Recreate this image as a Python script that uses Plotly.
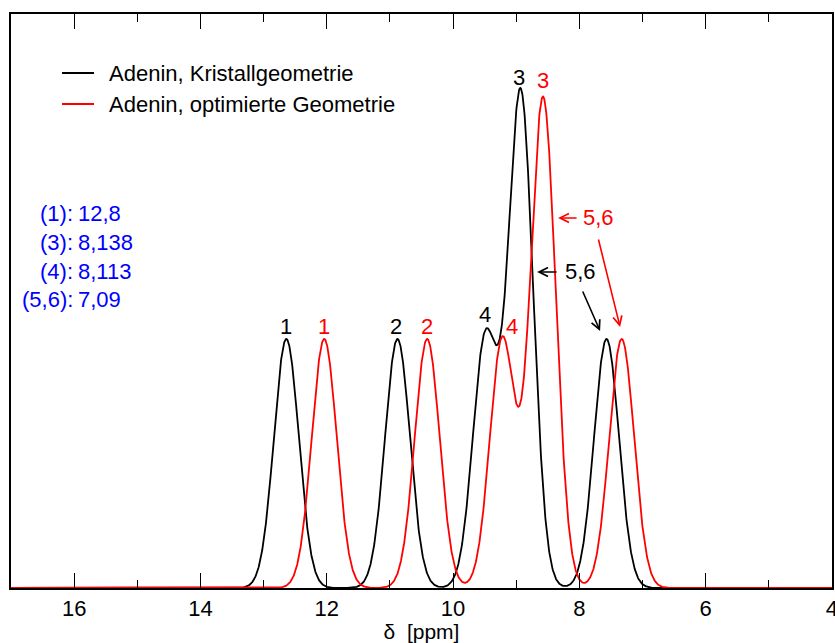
import numpy as np
import plotly.graph_objects as go

# Chemical shifts (ppm) of the adenine protons, each broadened into a Gaussian line
crystal_shifts = [12.64, 10.88, 9.49, 8.95, 8.91, 7.57]
optimized_shifts = [12.04, 10.41, 9.22, 8.61, 8.54, 7.33]
line_intensity = [1, 1, 1, 1, 1, 1]
line_sigma = 0.197  # ppm

# Experimental reference shifts
exp_labels = ["(1):", "(3):", "(4):", "(5,6):"]
exp_values = ["12,8", "8,138", "8,113", "7,09"]

x_ticks = [16, 14, 12, 10, 8, 6, 4]

ppm = np.linspace(17, 4, 2601)


def spectrum(shifts):
    y = np.zeros_like(ppm)
    for s, a in zip(shifts, line_intensity):
        y += a * np.exp(-0.5 * ((ppm - s) / line_sigma) ** 2)
    return y


black_y = spectrum(crystal_shifts)
red_y = spectrum(optimized_shifts)

FONT = "Liberation Sans, Arial, Helvetica, sans-serif"
FS = 22
BLUE = "#0000ff"

fig = go.Figure()
fig.add_trace(go.Scatter(x=ppm, y=black_y, mode="lines",
                         line=dict(color="black", width=1.8),
                         name="Adenin, Kristallgeometrie", showlegend=False))
fig.add_trace(go.Scatter(x=ppm, y=red_y, mode="lines",
                         line=dict(color="#ff0000", width=1.8),
                         name="Adenin, optimierte Geometrie", showlegend=False))

ann = []


def label(x, y, text, color, xanchor="center"):
    ann.append(dict(x=x, y=y, text=text, showarrow=False, xanchor=xanchor,
                    yanchor="middle", font=dict(family=FONT, size=FS, color=color)))


def arrow(x, y, ax, ay, color):
    ann.append(dict(x=x, y=y, ax=ax, ay=ay, axref="pixel", ayref="pixel", text="",
                    showarrow=True, arrowhead=5, arrowsize=1.1, arrowwidth=1.6,
                    arrowcolor=color, standoff=0, startstandoff=0))


# peak numbers
label(12.64, 1.052, "1", "black")
label(12.04, 1.052, "1", "red")
label(10.90, 1.052, "2", "black")
label(10.41, 1.052, "2", "red")
label(9.49, 1.10, "4", "black")
label(9.065, 1.052, "4", "red")
label(8.955, 2.052, "3", "black")
label(8.574, 2.036, "3", "red")

# NH2 assignments with arrows
label(7.703, 1.486, "5,6", "red")
arrow(8.337, 1.486, 20, 0, "red")
arrow(7.355, 1.048, -22, -89, "red")
label(7.988, 1.269, "5,6", "black")
arrow(8.669, 1.269, 21, 0, "black")
arrow(7.672, 1.032, -18, -41, "black")

# experimental values
for lab, val, yy in zip(exp_labels, exp_values, [1.502, 1.386, 1.269, 1.157]):
    label(15.986, yy, lab, BLUE, xanchor="right")
    label(15.97, yy, val, BLUE, xanchor="left")

# legend
shapes = []
for name, color, yp in [("Adenin, Kristallgeometrie", "black", 0.8972),
                        ("Adenin, optimierte Geometrie", "#ff0000", 0.8432)]:
    shapes.append(dict(type="line", xref="paper", yref="paper", x0=0.0621, x1=0.1011,
                       y0=yp, y1=yp, line=dict(color=color, width=1.8)))
    ann.append(dict(xref="paper", yref="paper", x=0.1169, y=yp, text=name,
                    showarrow=False, xanchor="left", yanchor="middle",
                    font=dict(family=FONT, size=FS, color="black")))

fig.update_layout(
    width=835, height=643,
    margin=dict(l=11, r=3, t=14, b=55, autoexpand=False),
    plot_bgcolor="white", paper_bgcolor="white",
    annotations=ann, shapes=shapes,
    showlegend=False,
    xaxis=dict(range=[17, 3.9995], tickvals=x_ticks, ticks="inside", ticklen=15,
               tickwidth=1.3, tickcolor="black", ticklabeloverflow="allow",
               automargin=False,
               minor=dict(dtick=1, tick0=0, ticks="inside", ticklen=8,
                          tickwidth=1.3, tickcolor="black"),
               showline=True, linewidth=2, linecolor="black", mirror="ticks",
               showgrid=False, zeroline=False,
               tickfont=dict(family=FONT, size=FS, color="black"),
               title=dict(text="δ\u00a0 [ppm]", font=dict(family=FONT, size=21, color="black"),
                          standoff=9)),
    yaxis=dict(range=[0, 2.305], showticklabels=False, ticks="", showgrid=False,
               zeroline=False, showline=True, linewidth=2, linecolor="black",
               mirror=True, automargin=False),
)

fig.write_html("out.html")
